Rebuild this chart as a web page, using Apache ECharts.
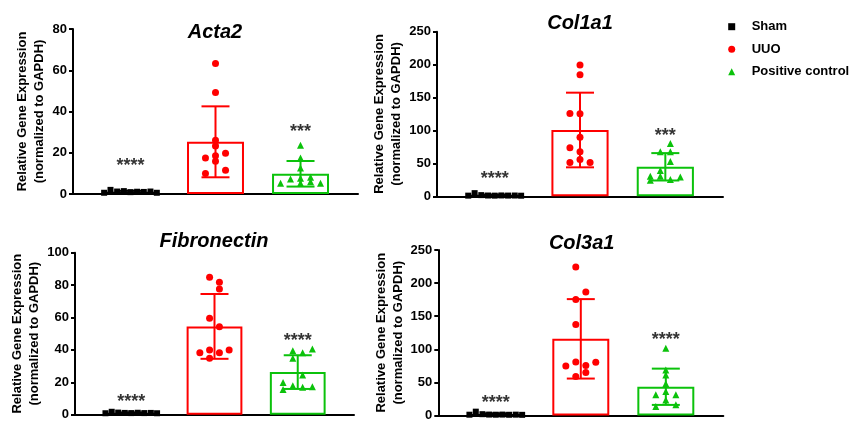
<!DOCTYPE html>
<html><head><meta charset="utf-8">
<script src="https://cdn.jsdelivr.net/npm/echarts@6/dist/echarts.min.js"></script>
<style>html,body{margin:0;padding:0;background:#fff}#c{width:865px;height:428px}</style>
</head><body><div id="c"></div>
<script>
// ---------- data ----------
const categories = ['Sham', 'UUO', 'Positive control'];
const genes = ['Acta2', 'Col1a1', 'Fibronectin', 'Col3a1'];
const yMax = [80, 250, 100, 250];
const yInterval = [20, 50, 20, 50];

const acta2Sham = [0.6, 2.0, 1.2, 1.4, 0.9, 1.1, 1.0, 1.2, 0.6];
const acta2UUO = [63.3, 49.2, 26.1, 23.3, 17.5, 18.5, 19.8, 15.9, 9.9, 11.5];
const acta2Pos = [23.6, 17.5, 12.6, 7.6, 5.2, 7.3, 8.1, 6.0, 5.2, 5.2];
const acta2Mean = [1.1, 25.3, 9.8];
const acta2SD = [0.45, 17.2, 6.2];

const col1a1Sham = [1.0, 4.8, 1.8, 1.2, 1.0, 1.3, 1.1, 1.2, 0.9];
const col1a1UUO = [199.4, 184.7, 125.9, 125.4, 89.8, 73.6, 67.5, 55.8, 51.3, 51.3];
const col1a1Pos = [80.2, 67.5, 67.5, 52.8, 39.1, 30.5, 30.5, 24.4, 25.4, 29.4];
const col1a1Mean = [1.5, 100.7, 44.8];
const col1a1SD = [1.2, 56.7, 20.8];

const fibSham = [0.9, 1.8, 1.3, 1.1, 1.0, 1.2, 1.0, 1.1, 0.9];
const fibUUO = [84.8, 81.7, 77.6, 59.5, 54.3, 38.3, 39.9, 38.3, 39.9, 34.8];
const fibPos = [39.5, 38.3, 40.5, 34.8, 24.5, 19.8, 17.9, 16.9, 17.3, 15.6];
const fibMean = [1.1, 54.5, 26.3];
const fibSD = [0.3, 20.0, 10.4];

const col3a1Sham = [1.2, 5.8, 2.0, 1.4, 1.2, 1.4, 1.1, 1.3, 1.0];
const col3a1UUO = [224.3, 186.5, 175.4, 137.6, 80.9, 74.9, 75.4, 80.4, 64.8, 58.8];
const col3a1Pos = [101.5, 68.8, 61.3, 48.0, 36.2, 31.2, 31.2, 23.6, 13.6, 16.1];
const col3a1Mean = [1.8, 115.8, 43.4];
const col3a1SD = [1.5, 60.0, 27.4];

// horizontal jitter of the dots (fraction of category spacing)
const shamJitter = [-0.31, -0.235, -0.157, -0.078, 0, 0.078, 0.157, 0.235, 0.31];
const acta2UUOJitter = [0, 0, 0, 0, -0.118, 0, 0.118, 0, -0.118, 0.118];
const acta2PosJitter = [0, 0, 0, 0, 0, -0.118, 0.118, 0.118, -0.235, 0.235];
const col1a1UUOJitter = [0, 0, -0.118, 0, 0, -0.118, 0, 0, -0.118, 0.118];
const col1a1PosJitter = [0.059, -0.059, 0.059, 0.059, -0.059, -0.176, -0.059, -0.176, 0.059, 0.176];
const fibUUOJitter = [-0.059, 0.059, 0.059, -0.059, 0.059, -0.176, -0.059, 0.059, 0.176, -0.059];
const fibPosJitter = [-0.059, 0.059, 0.176, -0.059, 0.059, -0.176, -0.059, 0.059, 0.176, -0.176];
const col3a1UUOJitter = [-0.059, 0.059, -0.059, -0.059, -0.059, -0.176, 0.059, 0.176, 0.059, -0.059];
const col3a1PosJitter = [0, 0, 0, 0, 0, -0.118, 0.118, 0, -0.118, 0.118];

// significance annotations: [Sham, Positive control]
const starText = [['****', '***'], ['****', '***'], ['****', '****'], ['****', '****']];
const starY = [[15.5, 32], [32, 97], [10.3, 48], [25, 120]];

// ---------- assembly ----------
const points = [
  [acta2Sham, acta2UUO, acta2Pos],
  [col1a1Sham, col1a1UUO, col1a1Pos],
  [fibSham, fibUUO, fibPos],
  [col3a1Sham, col3a1UUO, col3a1Pos]
];
const jitters = [
  [shamJitter, acta2UUOJitter, acta2PosJitter],
  [shamJitter, col1a1UUOJitter, col1a1PosJitter],
  [shamJitter, fibUUOJitter, fibPosJitter],
  [shamJitter, col3a1UUOJitter, col3a1PosJitter]
];
const means = [acta2Mean, col1a1Mean, fibMean, col3a1Mean];
const sds = [acta2SD, col1a1SD, fibSD, col3a1SD];

const colors = ['#000000', '#FF0000', '#0BC20B'];
const symbols = ['rect', 'circle', 'triangle'];
const symbolSizes = [6, 7, 7];
const FONT = 'Arial, "Liberation Sans", sans-serif';

const boxes = [
  { left: 73, top: 29, width: 285, height: 165 },
  { left: 437, top: 31.7, width: 286, height: 164.6 },
  { left: 75, top: 252.7, width: 279, height: 162 },
  { left: 438.3, top: 250, width: 285, height: 165.5 }
];
const titlePos = [[215, 32], [580, 23.5], [214, 241.7], [581.7, 243.3]];
const X_MIN = -0.676, X_MAX = 2.676;

const grid = [], xAxis = [], yAxis = [], series = [], graphic = [];

boxes.forEach((b, i) => {
  grid.push(Object.assign({ outerBoundsMode: 'none', containLabel: false }, b));
  xAxis.push({
    type: 'value', gridIndex: i, min: X_MIN, max: X_MAX,
    axisLine: { show: true, onZero: false, lineStyle: { color: '#000', width: 2 } },
    axisTick: { show: false }, axisLabel: { show: false }, splitLine: { show: false }
  });
  yAxis.push({
    type: 'value', gridIndex: i, min: 0, max: yMax[i], interval: yInterval[i],
    name: 'Relative Gene Expression\n(normalized to GAPDH)',
    nameLocation: 'middle', nameRotate: 90, nameGap: 25,
    nameTextStyle: { color: '#000', fontWeight: 'bold', fontSize: 13, lineHeight: 17, fontFamily: FONT },
    axisLine: { show: true, onZero: false, lineStyle: { color: '#000', width: 2 } },
    axisTick: { show: true, length: 4, lineStyle: { color: '#000', width: 2 } },
    axisLabel: { color: '#000', fontWeight: 'bold', fontSize: 13, margin: 6, fontFamily: FONT },
    splitLine: { show: false }
  });
  const bw = 0.67 * b.width / (X_MAX - X_MIN);
  series.push({
    type: 'bar', xAxisIndex: i, yAxisIndex: i, barWidth: bw, silent: true, z: 1,
    itemStyle: { color: '#fff', borderWidth: 2 },
    data: means[i].map((m, k) => ({ value: [k, m], itemStyle: { borderColor: colors[k] } }))
  });
  series.push({
    type: 'custom', xAxisIndex: i, yAxisIndex: i, silent: true, z: 2,
    encode: { x: 0, y: 1 },
    data: means[i].map((m, k) => [k, m, sds[i][k]]),
    renderItem: (params, api) => {
      const x = api.value(0), m = api.value(1), s = api.value(2);
      const t = api.coord([x, m + s]), d = api.coord([x, m - s]);
      const hw = 14, st = { stroke: colors[params.dataIndex], lineWidth: 2 };
      return { type: 'group', children: [
        { type: 'line', shape: { x1: t[0], y1: t[1], x2: d[0], y2: d[1] }, style: st },
        { type: 'line', shape: { x1: t[0] - hw, y1: t[1], x2: t[0] + hw, y2: t[1] }, style: st },
        { type: 'line', shape: { x1: d[0] - hw, y1: d[1], x2: d[0] + hw, y2: d[1] }, style: st }
      ] };
    }
  });
  categories.forEach((c, k) => {
    series.push({
      type: 'scatter', name: c, xAxisIndex: i, yAxisIndex: i, z: 3, silent: true,
      symbol: symbols[k], symbolSize: symbolSizes[k],
      itemStyle: { color: colors[k], opacity: 1 },
      data: points[i][k].map((v, j) => [k + jitters[i][k][j], v])
    });
  });
  series.push({
    type: 'scatter', xAxisIndex: i, yAxisIndex: i, z: 4, silent: true,
    symbolSize: 1, itemStyle: { color: 'rgba(0,0,0,0)' },
    label: { show: true, position: 'inside', offset: [0, 4], color: '#000', fontSize: 18, fontWeight: 'bold', fontFamily: FONT,
      formatter: p => starText[i][p.dataIndex] },
    data: [[0, starY[i][0]], [2, starY[i][1]]]
  });
  graphic.push({
    type: 'text', x: titlePos[i][0], y: titlePos[i][1], silent: true,
    style: { text: genes[i], fill: '#000', font: 'italic bold 20px ' + FONT, align: 'center', verticalAlign: 'middle' }
  });
});

const chart = echarts.init(document.getElementById('c'), null, { renderer: 'canvas' });
chart.setOption({
  animation: false,
  backgroundColor: '#fff',
  grid, xAxis, yAxis, series, graphic,
  legend: {
    orient: 'vertical', left: 728.2, top: 18.7, padding: 0, itemGap: 6.5,
    itemWidth: 7, itemHeight: 7, selectedMode: false,
    textStyle: { color: '#000', fontWeight: 'bold', fontSize: 13, fontFamily: FONT, lineHeight: 16, padding: [0, 0, 0, 11.5] },
    data: categories.map((c, k) => ({ name: c, icon: symbols[k] }))
  }
});
</script></body></html>
